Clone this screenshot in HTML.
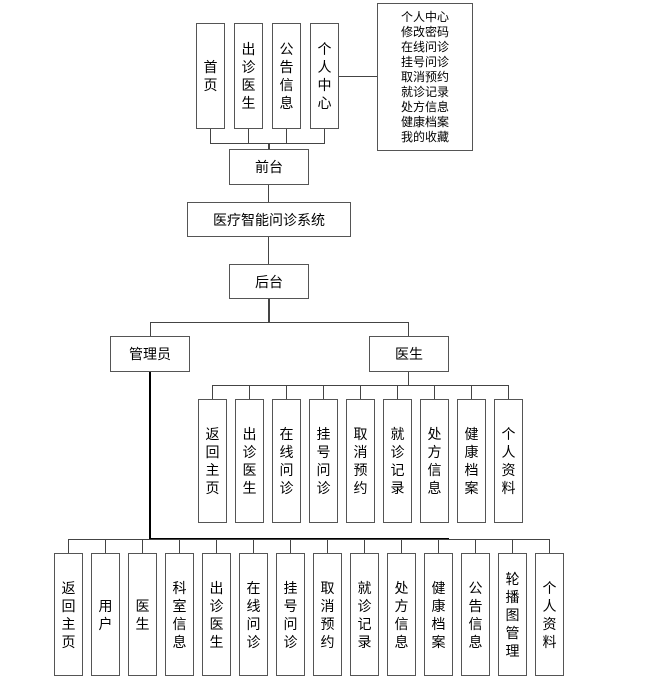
<!DOCTYPE html>
<html><head><meta charset="utf-8"><style>
body{margin:0;background:#fff;width:657px;height:684px;position:relative;overflow:hidden;font-family:"Liberation Sans","Noto Sans CJK SC",sans-serif;font-size:14px;color:#000}
.b{position:absolute;box-sizing:border-box;border:1.5px solid #555;background:#fff;display:flex;align-items:center;justify-content:center;text-align:center;line-height:18px}
.v{width:29px}
.l{position:absolute;background:#444}
</style></head><body>
<!-- top connectors -->
<div class="l" style="left:210px;top:129px;width:1px;height:14px"></div>
<div class="l" style="left:248px;top:129px;width:1px;height:14px"></div>
<div class="l" style="left:286px;top:129px;width:1px;height:14px"></div>
<div class="l" style="left:324px;top:129px;width:1px;height:14px"></div>
<div class="l" style="left:210px;top:143px;width:115px;height:1px"></div>
<div class="l" style="left:268px;top:143px;width:2px;height:6px"></div>
<div class="l" style="left:338px;top:76px;width:39px;height:1px"></div>
<div class="l" style="left:268px;top:184px;width:1px;height:18px"></div>
<div class="l" style="left:268px;top:236px;width:1px;height:28px"></div>
<div class="l" style="left:268px;top:298px;width:2px;height:24px"></div>
<div class="l" style="left:150px;top:322px;width:259px;height:1px"></div>
<div class="l" style="left:150px;top:322px;width:1px;height:14px"></div>
<div class="l" style="left:408px;top:322px;width:1px;height:14px"></div>
<div class="l" style="left:408px;top:371px;width:1px;height:14px"></div>
<div class="l" style="left:212px;top:385px;width:297px;height:1px"></div>
<div class="l" style="left:149px;top:371px;width:2px;height:169px;background:#000"></div>
<div class="l" style="left:149px;top:538px;width:300px;height:2px;background:#000"></div>
<div class="l" style="left:68px;top:539px;width:482px;height:1px"></div>

<div class="b" style="left:196px;top:23px;width:29px;height:106px">首<br>页</div>
<div class="b" style="left:234px;top:23px;width:29px;height:106px">出<br>诊<br>医<br>生</div>
<div class="b" style="left:272px;top:23px;width:29px;height:106px">公<br>告<br>信<br>息</div>
<div class="b" style="left:310px;top:23px;width:29px;height:106px">个<br>人<br>中<br>心</div>
<div class="b" style="left:377px;top:3px;width:96px;height:148px;font-size:12px;line-height:15px">个人中心<br>修改密码<br>在线问诊<br>挂号问诊<br>取消预约<br>就诊记录<br>处方信息<br>健康档案<br>我的收藏</div>
<div class="b" style="left:229px;top:149px;width:80px;height:36px">前台</div>
<div class="b" style="left:187px;top:202px;width:164px;height:35px">医疗智能问诊系统</div>
<div class="b" style="left:229px;top:264px;width:80px;height:35px">后台</div>
<div class="b" style="left:110px;top:336px;width:80px;height:36px">管理员</div>
<div class="b" style="left:369px;top:336px;width:80px;height:36px">医生</div>

<!-- doctor row -->
<div class="l" style="left:212px;top:385px;width:1px;height:14px"></div>
<div class="l" style="left:249px;top:385px;width:1px;height:14px"></div>
<div class="l" style="left:286px;top:385px;width:1px;height:14px"></div>
<div class="l" style="left:323px;top:385px;width:1px;height:14px"></div>
<div class="l" style="left:360px;top:385px;width:1px;height:14px"></div>
<div class="l" style="left:397px;top:385px;width:1px;height:14px"></div>
<div class="l" style="left:434px;top:385px;width:1px;height:14px"></div>
<div class="l" style="left:471px;top:385px;width:1px;height:14px"></div>
<div class="l" style="left:508px;top:385px;width:1px;height:14px"></div>
<div class="b v" style="left:198px;top:399px;height:124px">返<br>回<br>主<br>页</div>
<div class="b v" style="left:235px;top:399px;height:124px">出<br>诊<br>医<br>生</div>
<div class="b v" style="left:272px;top:399px;height:124px">在<br>线<br>问<br>诊</div>
<div class="b v" style="left:309px;top:399px;height:124px">挂<br>号<br>问<br>诊</div>
<div class="b v" style="left:346px;top:399px;height:124px">取<br>消<br>预<br>约</div>
<div class="b v" style="left:383px;top:399px;height:124px">就<br>诊<br>记<br>录</div>
<div class="b v" style="left:420px;top:399px;height:124px">处<br>方<br>信<br>息</div>
<div class="b v" style="left:457px;top:399px;height:124px">健<br>康<br>档<br>案</div>
<div class="b v" style="left:494px;top:399px;height:124px">个<br>人<br>资<br>料</div>

<!-- admin row -->
<div class="l" style="left:68px;top:539px;width:1px;height:14px"></div>
<div class="l" style="left:105px;top:539px;width:1px;height:14px"></div>
<div class="l" style="left:142px;top:539px;width:1px;height:14px"></div>
<div class="l" style="left:179px;top:539px;width:1px;height:14px"></div>
<div class="l" style="left:216px;top:539px;width:1px;height:14px"></div>
<div class="l" style="left:253px;top:539px;width:1px;height:14px"></div>
<div class="l" style="left:290px;top:539px;width:1px;height:14px"></div>
<div class="l" style="left:327px;top:539px;width:1px;height:14px"></div>
<div class="l" style="left:364px;top:539px;width:1px;height:14px"></div>
<div class="l" style="left:401px;top:539px;width:1px;height:14px"></div>
<div class="l" style="left:438px;top:539px;width:1px;height:14px"></div>
<div class="l" style="left:475px;top:539px;width:1px;height:14px"></div>
<div class="l" style="left:512px;top:539px;width:1px;height:14px"></div>
<div class="l" style="left:549px;top:539px;width:1px;height:14px"></div>
<div class="b v" style="left:54px;top:553px;height:123px">返<br>回<br>主<br>页</div>
<div class="b v" style="left:91px;top:553px;height:123px">用<br>户</div>
<div class="b v" style="left:128px;top:553px;height:123px">医<br>生</div>
<div class="b v" style="left:165px;top:553px;height:123px">科<br>室<br>信<br>息</div>
<div class="b v" style="left:202px;top:553px;height:123px">出<br>诊<br>医<br>生</div>
<div class="b v" style="left:239px;top:553px;height:123px">在<br>线<br>问<br>诊</div>
<div class="b v" style="left:276px;top:553px;height:123px">挂<br>号<br>问<br>诊</div>
<div class="b v" style="left:313px;top:553px;height:123px">取<br>消<br>预<br>约</div>
<div class="b v" style="left:350px;top:553px;height:123px">就<br>诊<br>记<br>录</div>
<div class="b v" style="left:387px;top:553px;height:123px">处<br>方<br>信<br>息</div>
<div class="b v" style="left:424px;top:553px;height:123px">健<br>康<br>档<br>案</div>
<div class="b v" style="left:461px;top:553px;height:123px">公<br>告<br>信<br>息</div>
<div class="b v" style="left:498px;top:553px;height:123px">轮<br>播<br>图<br>管<br>理</div>
<div class="b v" style="left:535px;top:553px;height:123px">个<br>人<br>资<br>料</div>
</body></html>
